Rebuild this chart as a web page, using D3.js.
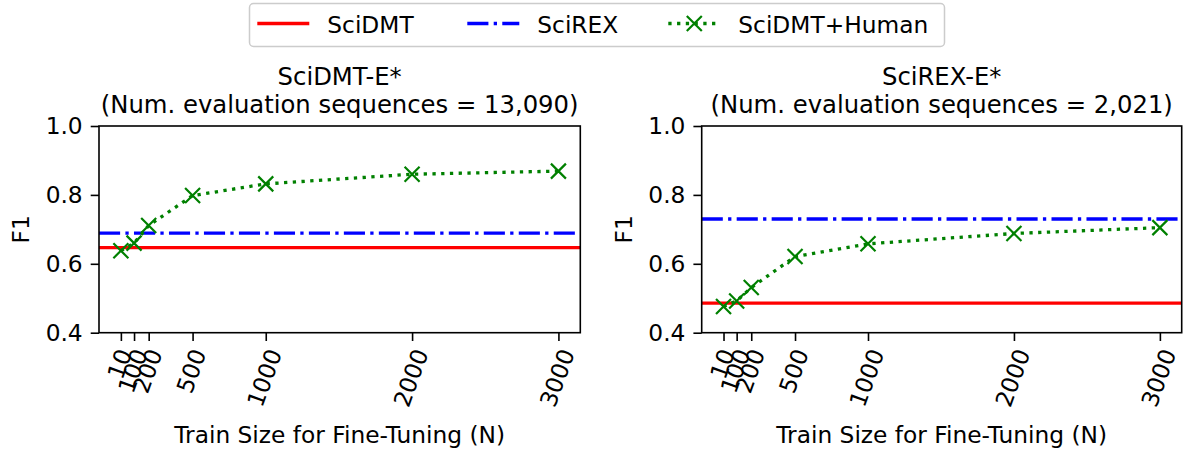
<!DOCTYPE html>
<html>
<head>
<meta charset="utf-8">
<script src="https://cdn.jsdelivr.net/npm/d3@7"></script>
<style>
  body { margin: 0; background: #fff; }
  text { font-family: "DejaVu Sans", sans-serif; fill: #000; }
</style>
</head>
<body>
<div id="chart"></div>
<script>
// data
var trainSizes = [10, 100, 200, 500, 1000, 2000, 3000];
var xTickLabels = ["10", "100", "200", "500", "1000", "2000", "3000"];
var yTicks = [0.4, 0.6, 0.8, 1.0];
var seriesNames = ["SciDMT", "SciREX", "SciDMT+Human"];

var panelTitles = ["SciDMT-E*", "SciREX-E*"];
var panelSubtitles = ["(Num. evaluation sequences = 13,090)", "(Num. evaluation sequences = 2,021)"];

var scidmtBase = [0.647, 0.486];
var scirexBase = [0.689, 0.730];
var humanLeft = [0.638, 0.660, 0.711, 0.798, 0.832, 0.860, 0.869];
var humanRight = [0.476, 0.492, 0.531, 0.621, 0.658, 0.688, 0.705];
var humanSeries = [humanLeft, humanRight];

var width = 1185, height = 452;
var fontSize = 23.3;
var titleSize = 24.3;

var svg = d3.select("#chart").append("svg")
  .attr("width", width)
  .attr("height", height);

// axes boxes
var panels = [
  { left: 99, right: 580.3 },
  { left: 701.7, right: 1181.7 }
];
var plotTop = 126, plotBottom = 332.7;

var colors = ["#ff0000", "#0000ff", "#008000"];
var lw = 3.3;
var dashDot = [6.4 * lw, 1.6 * lw, 1 * lw, 1.6 * lw].join(",");
var dotted = [1 * lw, 1.65 * lw].join(",");
var tickLen = 8.3;

// x domain uses matplotlib's 5% margin
var xPad = (d3.max(trainSizes) - d3.min(trainSizes)) * 0.05;

panels.forEach(function(p, k) {
  var x = d3.scaleLinear()
    .domain([d3.min(trainSizes) - xPad, d3.max(trainSizes) + xPad])
    .range([p.left, p.right]);
  var y = d3.scaleLinear()
    .domain([0.4, 1.0])
    .range([plotBottom, plotTop]);

  var g = svg.append("g");

  // y axis
  var yAxis = g.append("g")
    .attr("transform", `translate(${p.left},0)`)
    .call(d3.axisLeft(y).tickValues(yTicks).tickFormat(d3.format(".1f")).tickSize(tickLen).tickPadding(8));
  yAxis.select(".domain").remove();
  yAxis.selectAll("line").attr("stroke", "#000").attr("stroke-width", 1.6);
  yAxis.selectAll("text").attr("font-size", fontSize).attr("font-family", "DejaVu Sans");

  // x axis, labels turned 70 degrees like the original
  var xAxis = g.append("g")
    .attr("transform", `translate(0,${plotBottom})`)
    .call(d3.axisBottom(x).tickValues(trainSizes).tickFormat((d, i) => xTickLabels[i]).tickSize(tickLen));
  xAxis.select(".domain").remove();
  xAxis.selectAll("line").attr("stroke", "#000").attr("stroke-width", 1.6);
  xAxis.selectAll("text")
    .attr("font-size", fontSize)
    .attr("font-family", "DejaVu Sans")
    .attr("dy", null)
    .attr("y", null)
    .attr("text-anchor", "middle")
    .attr("dominant-baseline", "central")
    .each(function(d) {
      var w = this.getComputedTextLength();
      var h = fontSize * 1.0;
      var a = 70 * Math.PI / 180;
      var bh = w * Math.sin(a) + h * Math.cos(a);
      d3.select(this).attr("transform", `translate(-2,${tickLen + 5 + bh / 2}) rotate(-70)`);
    });

  // baselines
  var line = d3.line().x(d => d[0]).y(d => d[1]);
  g.append("path")
    .attr("d", line([[p.left, y(scidmtBase[k])], [p.right, y(scidmtBase[k])]]))
    .attr("stroke", colors[0]).attr("stroke-width", lw).attr("fill", "none");
  g.append("path")
    .attr("d", line([[p.left, y(scirexBase[k])], [p.right, y(scirexBase[k])]]))
    .attr("stroke", colors[1]).attr("stroke-width", lw).attr("fill", "none")
    .attr("stroke-dasharray", dashDot);

  // human series
  var pts = trainSizes.map((t, i) => [x(t), y(humanSeries[k][i])]);
  g.append("path")
    .attr("d", line(pts))
    .attr("stroke", colors[2]).attr("stroke-width", lw).attr("fill", "none")
    .attr("stroke-dasharray", dotted);
  var ms = 7.5;
  g.selectAll(".mk").data(pts).enter().append("path")
    .attr("d", d => `M${d[0] - ms},${d[1] - ms}L${d[0] + ms},${d[1] + ms}M${d[0] - ms},${d[1] + ms}L${d[0] + ms},${d[1] - ms}`)
    .attr("stroke", colors[2]).attr("stroke-width", 2.2).attr("fill", "none");

  // frame
  g.append("rect")
    .attr("x", p.left).attr("y", plotTop)
    .attr("width", p.right - p.left).attr("height", plotBottom - plotTop)
    .attr("fill", "none").attr("stroke", "#000").attr("stroke-width", 1.6);

  // titles
  var cx = (p.left + p.right) / 2;
  g.append("text").attr("x", cx).attr("y", 85).attr("text-anchor", "middle")
    .attr("font-size", titleSize).text(panelTitles[k]);
  g.append("text").attr("x", cx).attr("y", 113).attr("text-anchor", "middle")
    .attr("font-size", titleSize).text(panelSubtitles[k]);

  // axis labels
  g.append("text")
    .attr("transform", `translate(${p.left - 70},${(plotTop + plotBottom) / 2}) rotate(-90)`)
    .attr("text-anchor", "middle")
    .attr("font-size", fontSize).text("F1");
  g.append("text").attr("x", cx).attr("y", 443).attr("text-anchor", "middle")
    .attr("font-size", fontSize).text("Train Size for Fine-Tuning (N)");
});

// legend
var legend = svg.append("g");
legend.append("rect")
  .attr("x", 249.5).attr("y", 3.5).attr("width", 695).attr("height", 43)
  .attr("rx", 4).attr("fill", "#fff").attr("stroke", "#cccccc").attr("stroke-width", 1.5);
var legX = [257.3, 467.3, 668.3];
var ly = 23.5;
seriesNames.forEach(function(name, i) {
  var lg = legend.append("g");
  var seg = lg.append("path")
    .attr("d", `M${legX[i]},${ly}L${legX[i] + 52},${ly}`)
    .attr("stroke", colors[i]).attr("stroke-width", lw).attr("fill", "none");
  if (i === 1) seg.attr("stroke-dasharray", dashDot);
  if (i === 2) {
    seg.attr("stroke-dasharray", dotted);
    var mx = legX[i] + 26, m = 7.5;
    lg.append("path")
      .attr("d", `M${mx - m},${ly - m}L${mx + m},${ly + m}M${mx - m},${ly + m}L${mx + m},${ly - m}`)
      .attr("stroke", colors[i]).attr("stroke-width", 2.2);
  }
  lg.append("text").attr("x", legX[i] + 70).attr("y", ly + 9)
    .attr("font-size", fontSize).text(name);
});
</script>
</body>
</html>
